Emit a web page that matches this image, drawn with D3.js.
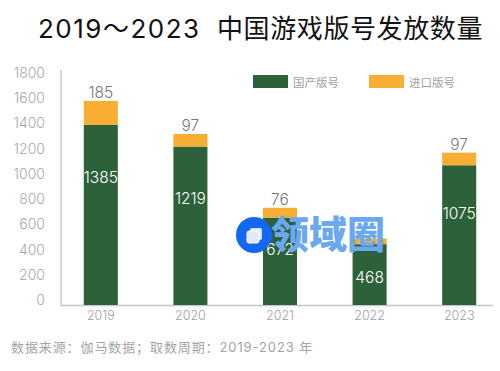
<!DOCTYPE html>
<html>
<head>
<meta charset="utf-8">
<script src="https://cdn.jsdelivr.net/npm/d3@7"></script>
<style>
  html, body { margin: 0; background: #fff; }
  text { font-family: Inter, "Noto Sans CJK SC", sans-serif; }
</style>
</head>
<body>
<svg id="chart"></svg>
<script>
const years = ["2019", "2020", "2021", "2022", "2023"];
const domestic = [1385, 1219, 672, 468, 1075];
const imported = [185, 97, 76, 44, 97];
const importedLabels = ["185", "97", "76", "", "97"]; // 2022 label is hidden by the watermark
// axis value where each white label sits, they are not centred in the bars
const domesticLabelAt = [938, 777, 385, 169, 662];
const ticks = [0, 200, 400, 600, 800, 1000, 1200, 1400, 1600, 1800];
const seriesNames = ["国产版号", "进口版号"];
const colors = ["#2c6139", "#f8ae33"];

const width = 500;
const height = 371;

const svg = d3.select("#chart")
  .attr("width", width)
  .attr("height", height)
  .style("display", "block");

const x = d3.scaleBand()
  .domain(years)
  .range([56, 504])
  .paddingInner(0.62)
  .paddingOuter(0.31);

const y = d3.scaleLinear().domain([0, 1800]).range([305, 71]);
// the tick labels sit a little above the bars' own scale in the original
const yTicks = d3.scaleLinear().domain([0, 1800]).range([300, 73]);

const title = svg.append("text")
  .attr("y", 38)
  .attr("font-size", 26)
  .attr("fill", "#111");
title.append("tspan")
  .attr("x", 38)
  .attr("letter-spacing", 1.5)
  .text("2019～2023");
title.append("tspan")
  .attr("x", 217)
  .attr("letter-spacing", 0.6)
  .text("中国游戏版号发放数量");

const yAxis = svg.append("g")
  .attr("transform", "translate(45,0)")
  .call(d3.axisLeft(yTicks).tickValues(ticks).tickSize(0).tickPadding(0).tickFormat(d3.format("d")));
yAxis.select(".domain").remove();
yAxis.selectAll("text")
  .attr("font-size", 14)
  .attr("font-weight", 300)
  .style("font-family", "Inter, sans-serif")
  .attr("fill", "#a8a8a8");

const xAxis = svg.append("g")
  .attr("transform", "translate(0,305)")
  .call(d3.axisBottom(x).tickSize(0).tickPadding(6));
xAxis.select(".domain").remove();
xAxis.selectAll("text")
  .attr("font-size", 12.5)
  .attr("font-weight", 300)
  .style("font-family", "Inter, sans-serif")
  .attr("fill", "#a0a0a0");

svg.append("line")
  .attr("x1", 61).attr("x2", 61)
  .attr("y1", 70).attr("y2", 305.5)
  .attr("stroke", "#c8c8c8")
  .attr("stroke-width", 1.5);
svg.append("line")
  .attr("x1", 61).attr("x2", 493)
  .attr("y1", 305.5).attr("y2", 305.5)
  .attr("stroke", "#c8c8c8")
  .attr("stroke-width", 1.5);

svg.append("g").selectAll("rect")
  .data(years)
  .join("rect")
    .attr("x", d => x(d))
    .attr("y", (d, i) => y(domestic[i]))
    .attr("width", x.bandwidth())
    .attr("height", (d, i) => y(0) - y(domestic[i]))
    .attr("fill", colors[0]);

svg.append("g").selectAll("rect")
  .data(years)
  .join("rect")
    .attr("x", d => x(d))
    .attr("y", (d, i) => y(domestic[i] + imported[i]))
    .attr("width", x.bandwidth())
    .attr("height", (d, i) => y(domestic[i]) - y(domestic[i] + imported[i]))
    .attr("fill", colors[1]);

svg.append("g").selectAll("text")
  .data(years)
  .join("text")
    .attr("x", d => x(d) + x.bandwidth() / 2)
    .attr("y", (d, i) => y(domestic[i] + imported[i]) - 3)
    .attr("text-anchor", "middle")
    .attr("font-size", 15.5)
    .attr("font-weight", 300)
    .attr("fill", "#777")
    .text((d, i) => importedLabels[i]);

svg.append("g").selectAll("text")
  .data(years)
  .join("text")
    .attr("x", d => x(d) + x.bandwidth() / 2)
    .attr("y", (d, i) => y(domesticLabelAt[i]))
    .attr("text-anchor", "middle")
    .attr("font-size", 15.5)
    .attr("font-weight", 300)
    .attr("fill", "#fff")
    .text((d, i) => domestic[i]);

// legend
const legend = svg.append("g").selectAll("g")
  .data(seriesNames)
  .join("g")
    .attr("transform", (d, i) => `translate(${253 + i * 116},75)`);
legend.append("rect")
  .attr("width", 35)
  .attr("height", 13)
  .attr("fill", (d, i) => colors[i]);
legend.append("text")
  .attr("x", 40)
  .attr("y", 12)
  .attr("font-size", 11.5)
  .attr("fill", "#a0a0a0")
  .text(d => d);

// source note
svg.append("text")
  .attr("x", 11)
  .attr("y", 352)
  .attr("font-size", 13)
  .attr("letter-spacing", 0.9)
  .attr("fill", "#a4a4a4")
  .text("数据来源：伽马数据；取数周期：2019-2023 年");

// watermark
const mark = svg.append("g");
mark.append("circle")
  .attr("cx", 254).attr("cy", 235).attr("r", 18)
  .attr("fill", "#1467f0");
mark.append("rect")
  .attr("x", 250).attr("y", 228).attr("width", 12).attr("height", 12)
  .attr("rx", 2)
  .attr("fill", "#fff").attr("fill-opacity", 0.85);
mark.append("rect")
  .attr("x", 247).attr("y", 231).attr("width", 12).attr("height", 12)
  .attr("rx", 2)
  .attr("fill", "#dfe9fb").attr("stroke", "#fff").attr("stroke-width", 1);
mark.append("text")
  .attr("x", 271)
  .attr("y", 248)
  .attr("font-size", 38)
  .attr("font-weight", 900)
  .style("font-family", "'Noto Sans CJK SC', sans-serif")
  .attr("fill", "#6aa9ef")
  .text("领域圈");
</script>
</body>
</html>
